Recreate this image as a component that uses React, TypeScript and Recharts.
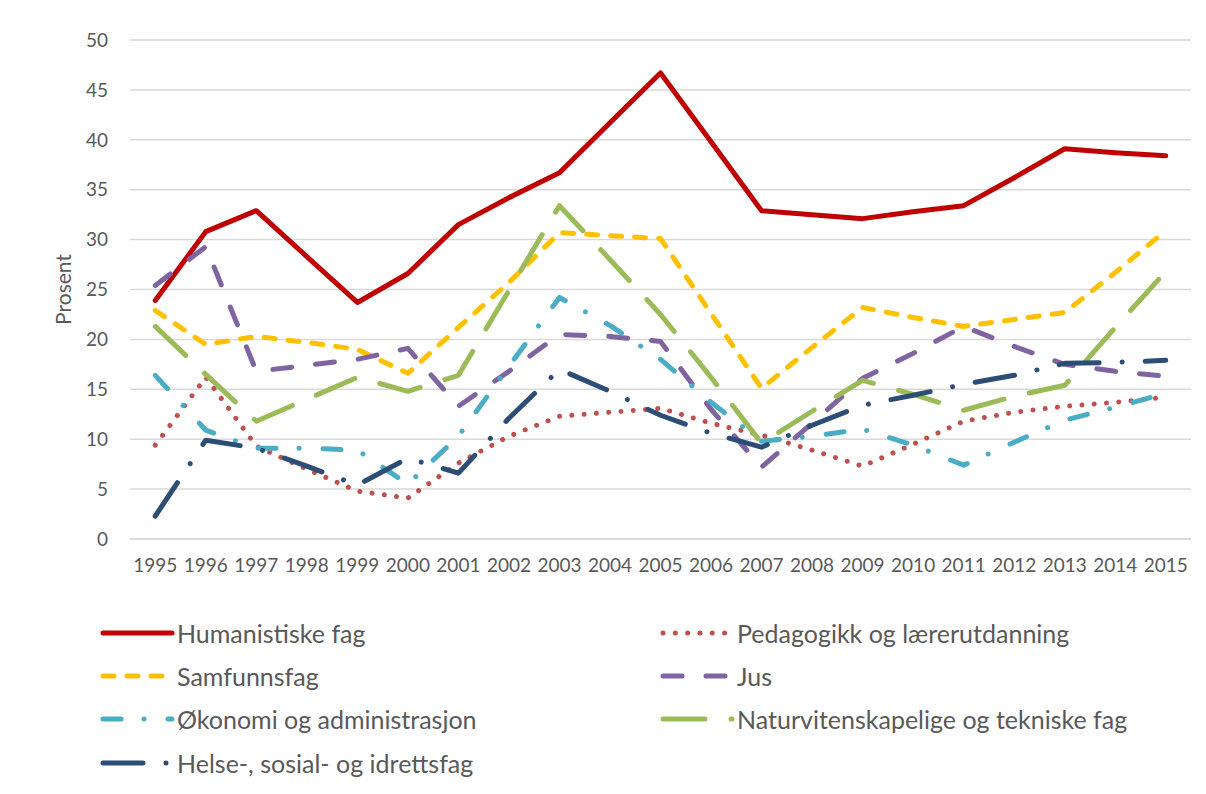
import { LineChart, Line, XAxis, YAxis, CartesianGrid, Label } from "recharts";

const years = [
  "1995", "1996", "1997", "1998", "1999", "2000", "2001", "2002", "2003", "2004", "2005",
  "2006", "2007", "2008", "2009", "2010", "2011", "2012", "2013", "2014", "2015",
];

const humanistiske = [23.9, 30.8, 32.9, 28.3, 23.7, 26.6, 31.5, 34.2, 36.7, 41.7, 46.7, 39.8, 32.9, 32.5, 32.1, 32.8, 33.4, 36.2, 39.1, 38.7, 38.4];
const pedagogikk = [9.4, 16.2, 9.3, 7.0, 4.8, 4.1, 7.6, 10.3, 12.3, 12.7, 13.1, 11.6, 10.4, 8.9, 7.3, 9.5, 11.8, 12.7, 13.3, 13.7, 14.2];
const samfunnsfag = [22.9, 19.5, 20.3, 19.7, 19.0, 16.6, 21.2, 25.7, 30.7, 30.4, 30.1, 22.6, 15.1, 19.2, 23.2, 22.2, 21.3, 22.0, 22.7, 26.7, 30.9];
const jus = [25.4, 29.3, 16.8, 17.4, 18.0, 19.1, 13.3, 16.8, 20.5, 20.3, 19.8, 13.0, 7.2, 11.6, 16.1, 18.6, 21.3, 19.3, 17.5, 16.8, 16.3];
const okonomi = [16.4, 10.9, 9.1, 9.1, 8.9, 5.5, 10.3, 17.3, 24.2, 21.4, 18.0, 13.7, 9.8, 10.3, 11.0, 9.4, 7.4, 9.7, 11.9, 13.2, 14.6];
const naturvit = [21.3, 16.5, 11.8, 14.0, 16.2, 14.8, 16.4, 24.9, 33.4, 28.0, 22.5, 16.2, 9.6, 12.8, 15.9, 14.5, 12.9, 14.3, 15.4, 21.2, 26.8];
const helse = [2.3, 9.9, 9.1, 7.3, 5.4, 8.1, 6.6, 12.1, 17.0, 14.8, 12.4, 10.6, 9.2, 11.4, 13.4, 14.4, 15.5, 16.4, 17.6, 17.7, 17.9];

const yTicks = [0, 5, 10, 15, 20, 25, 30, 35, 40, 45, 50];

const series = [
  { key: "hum", name: "Humanistiske fag", values: humanistiske, color: "#C00000", dash: undefined },
  { key: "ped", name: "Pedagogikk og lærerutdanning", values: pedagogikk, color: "#C0504D", dash: "0.01 12.3" },
  { key: "sam", name: "Samfunnsfag", values: samfunnsfag, color: "#FFC000", dash: "11 13" },
  { key: "jus", name: "Jus", values: jus, color: "#8064A2", dash: "19 24" },
  { key: "oko", name: "Økonomi og administrasjon", values: okonomi, color: "#4BACC6", dash: "18 23 0.01 24" },
  { key: "nat", name: "Naturvitenskapelige og tekniske fag", values: naturvit, color: "#9BBB59", dash: "42 26" },
  { key: "hel", name: "Helse-, sosial- og idrettsfag", values: helse, color: "#2C4D75", dash: "40 23 0.01 23" },
];

const data = years.map((year, i) => {
  const row: Record<string, string | number> = { year };
  series.forEach((s) => {
    row[s.key] = s.values[i];
  });
  return row;
});

const FONT = "Lato, 'Open Sans', sans-serif";
const TEXT = "#595959";

const legendPos = [
  { left: 92, top: 625 },
  { left: 652, top: 625 },
  { left: 92, top: 668 },
  { left: 652, top: 668 },
  { left: 92, top: 711 },
  { left: 652, top: 711 },
  { left: 92, top: 755 },
];

export default function App() {
  return (
    <div style={{ position: "relative", width: 1190, height: 778, fontFamily: FONT }}>
      <LineChart width={1190} height={600} data={data} margin={{ top: 32, right: 7, bottom: 0, left: 0 }}>
        <CartesianGrid vertical={false} stroke="#d9d9d9" strokeWidth={1.5} />
        <XAxis
          dataKey="year"
          height={69}
          padding={{ left: 25.25, right: 25.25 }}
          tickLine={false}
          axisLine={{ stroke: "#d9d9d9", strokeWidth: 1.5 }}
          tickSize={0}
          tickMargin={20}
          interval={0}
          tick={{ fill: TEXT, fontSize: 19, fontFamily: FONT }}
        />
        <YAxis
          width={122}
          domain={[0, 50]}
          ticks={yTicks}
          tickLine={false}
          axisLine={false}
          tickSize={0}
          tickMargin={22}
          tick={{ fill: TEXT, fontSize: 19, fontFamily: FONT }}
        >
          <Label
            content={({ viewBox }: any) => {
              const cx = 54;
              const cy = viewBox.y + viewBox.height / 2;
              return (
                <text
                  x={cx}
                  y={cy}
                  transform={`rotate(-90 ${cx} ${cy})`}
                  textAnchor="middle"
                  dominantBaseline="central"
                  fill={TEXT}
                  fontSize={21}
                  fontFamily={FONT}
                >
                  Prosent
                </text>
              );
            }}
          />
        </YAxis>
        {series.map((s) => (
          <Line
            key={s.key}
            dataKey={s.key}
            name={s.name}
            type="linear"
            stroke={s.color}
            strokeWidth={5}
            strokeDasharray={s.dash}
            strokeLinecap="round"
            strokeLinejoin="round"
            dot={false}
            activeDot={false}
            isAnimationActive={false}
          />
        ))}
      </LineChart>
      {series.map((s, i) => (
        <div
          key={s.key}
          style={{
            position: "absolute",
            left: legendPos[i].left,
            top: legendPos[i].top - 15,
            height: 30,
            display: "flex",
            alignItems: "center",
            color: TEXT,
            fontSize: 25,
            whiteSpace: "nowrap",
          }}
        >
          <svg width={76} height={10} style={{ marginRight: 1 }}>
            <line
              x1={3}
              y1={5}
              x2={72}
              y2={5}
              stroke={s.color}
              strokeWidth={5}
              strokeDasharray={s.dash}
              strokeLinecap="round"
            />
          </svg>
          <span>{s.name}</span>
        </div>
      ))}
    </div>
  );
}
